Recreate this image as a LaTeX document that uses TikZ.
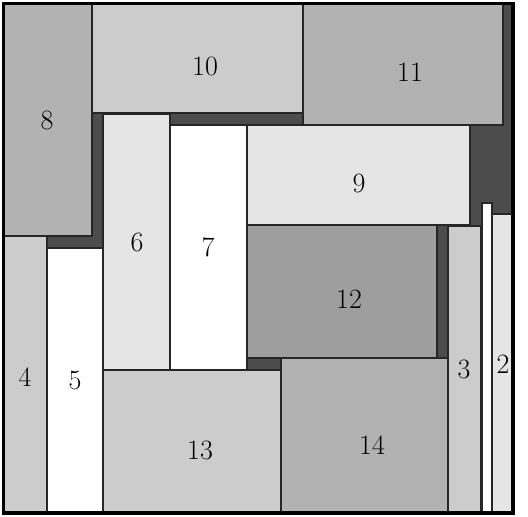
\documentclass[tikz,border=0pt]{standalone}
\begin{document}
\begin{tikzpicture}[x=1pt,y=-1pt,
  blk/.style={draw=black!85, line width=1.1pt},
  lbl/.style={font=\fontsize{28}{30}\selectfont, inner sep=0pt}]
\useasboundingbox (0,0) rectangle (528,517);
\fill[black!70] (4,4) rectangle (512,512);
% rectangles
\path[blk, fill=black!30] (4,4) rectangle (92,236);
\path[blk, fill=black!20] (92,4) rectangle (303,113);
\path[blk, fill=black!30] (303,4) rectangle (503,125);
\path[blk, fill=black!10] (247,125) rectangle (470,225);
\path[blk, fill=black!10] (103,114) rectangle (170,370);
\path[blk, fill=white] (170,125) rectangle (247,370);
\path[blk, fill=black!38] (247,225) rectangle (437,358);
\path[blk, fill=black!20] (448,226) rectangle (481,512);
\path[blk, fill=white] (482,203) rectangle (492,512);
\path[blk, fill=black!10] (492,214) rectangle (512,512);
\path[blk, fill=black!20] (4,236) rectangle (47,512);
\path[blk, fill=white] (47,248) rectangle (103,512);
\path[blk, fill=black!20] (103,370) rectangle (281,512);
\path[blk, fill=black!30] (281,358) rectangle (448,512);
% frame
\draw[line width=3.5pt] (3.5,3.5) rectangle (513,513);
% labels
\node[lbl] (n8) at (47,120) {8};
\node[lbl] (n10) at (205,66) {10};
\node[lbl] (n11) at (410,72) {11};
\node[lbl] (n9) at (359,183) {9};
\node[lbl] (n6) at (137,242) {6};
\node[lbl] (n7) at (208,247) {7};
\node[lbl] (n12) at (349,299) {12};
\node[lbl] (n4) at (25,377) {4};
\node[lbl] (n5) at (75,380) {5};
\node[lbl] (n13) at (200,450) {13};
\node[lbl] (n14) at (372,445) {14};
\node[lbl] (n3) at (464,369) {3};
\node[lbl] (n2) at (503,364) {2};
\end{tikzpicture}
\end{document}
